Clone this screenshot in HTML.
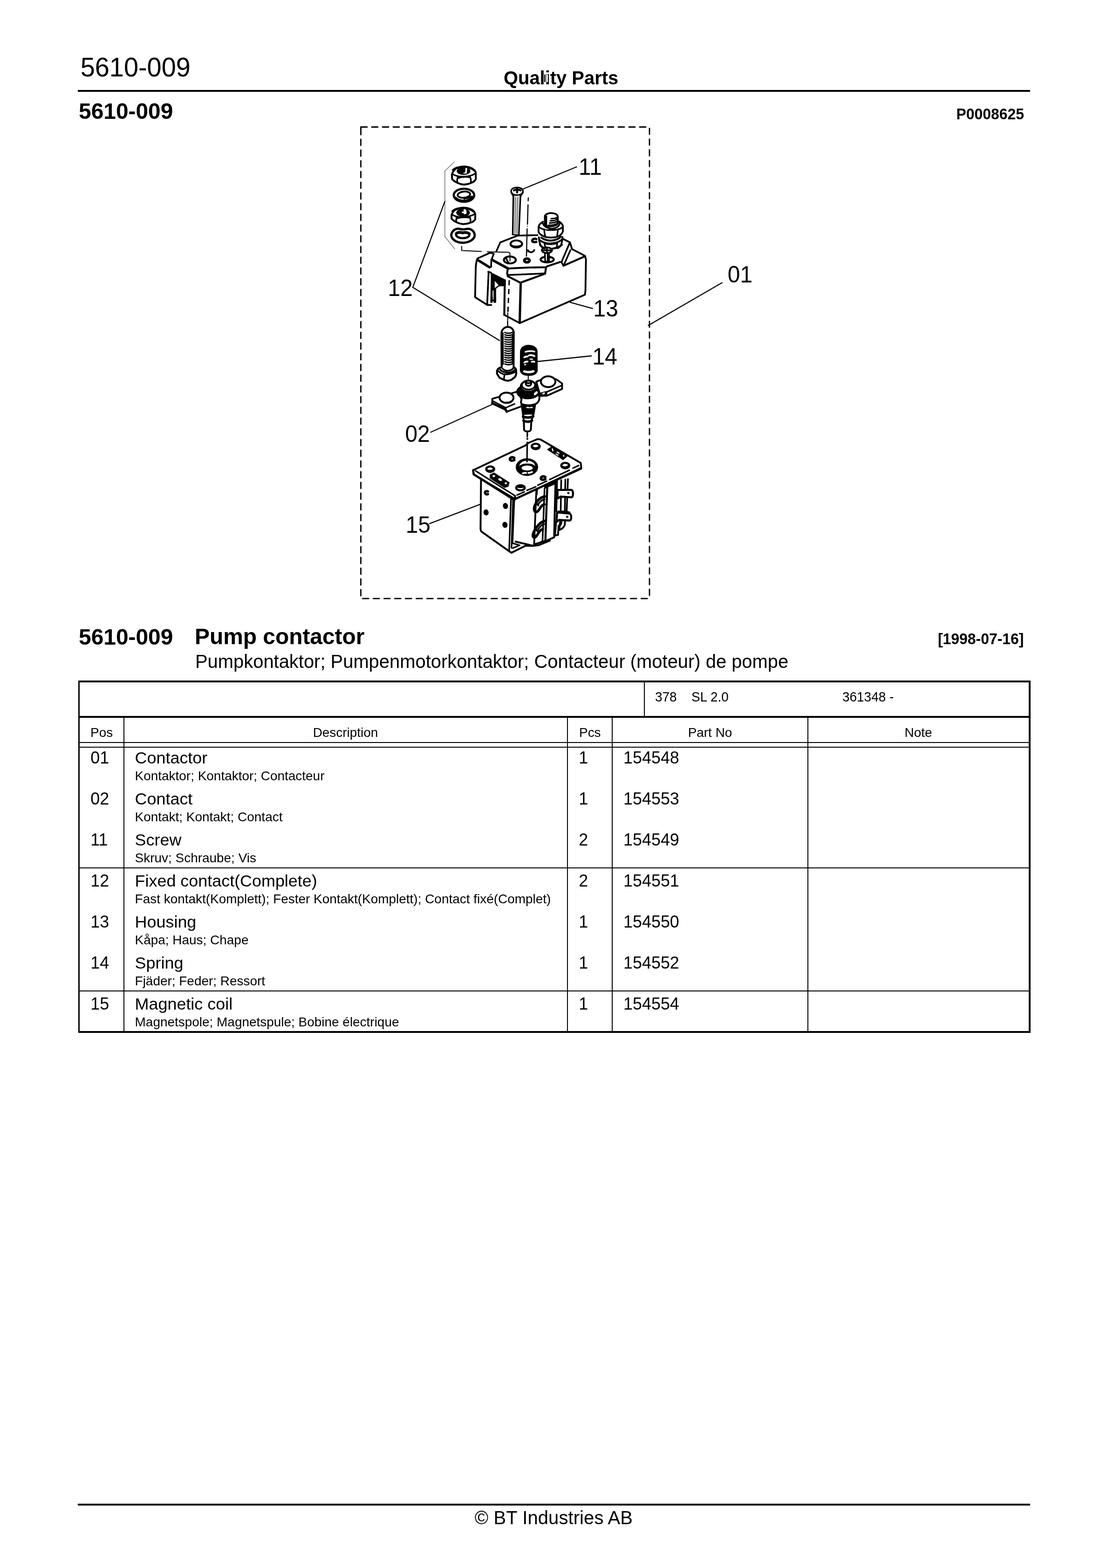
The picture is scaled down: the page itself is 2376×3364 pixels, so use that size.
<!DOCTYPE html>
<html lang="en">
<head>
<meta charset="utf-8">
<title>5610-009 Pump contactor</title>
<style>
html,body{margin:0;padding:0;background:#fff;}
body{width:2376px;height:3364px;position:relative;font-family:"Liberation Sans",sans-serif;color:#000;}
.t{position:absolute;line-height:1;white-space:nowrap;transform-origin:0 84.67%;}
#pg{position:absolute;left:0;top:0;width:2376px;height:3364px;overflow:hidden;will-change:transform;}
.r{position:absolute;background:#000;}
svg{position:absolute;left:0;top:0;}
</style>
</head>
<body>
<div id="pg">
<div class="t" style="top:117px;font-size:55.88px;left:172.70px;transform:scaleY(1.03);">5610-009</div>
<div class="t" style="top:148px;font-size:39.914px;left:1081.00px;font-weight:bold;">Quality Parts</div>
<div class="r" style="left:1168px;top:160px;width:9px;height:16px;background:linear-gradient(to right,#000 0,#000 2px,#999 2px,#a0a0a0 5.4px,#fff 5.6px,#fff 8px,#000 8px);"></div>
<div class="r" style="left:167.3px;top:192.5px;width:2044.2px;height:4.2px;"></div>
<div class="t" style="top:215px;font-size:47.897px;left:169.00px;font-weight:bold;transform:scaleY(1.015);">5610-009</div>
<div class="t" style="top:230px;font-size:31.931px;right:178.00px;font-weight:bold;transform:scaleY(1.02);">P0008625</div>
<svg width="2376" height="3364" viewBox="0 0 2376 3364" fill="none" stroke="#000" stroke-width="3" stroke-linecap="round" stroke-linejoin="round">
<path d="M775 272.5H1389" stroke-width="2.8" stroke-dasharray="13 10" stroke-linecap="round"/>
<path d="M1394 275.3V1280" stroke-width="2.8" stroke-dasharray="13 10" stroke-linecap="round"/>
<path d="M778.3 1284.2H1392.5" stroke-width="2.8" stroke-dasharray="13 10" stroke-linecap="round"/>
<path d="M774.5 276V1280" stroke-width="2.8" stroke-dasharray="13 10" stroke-linecap="round"/>
<path d="M774.5 272.5V278" stroke-width="2.8"/>
<path d="M1549.8 606.6L1391.6 698.1" stroke-width="2.3"/>
<path d="M1237.5 358L1121 406.2" stroke-width="2.3"/>
<path d="M974.4 347.8L954.8 367V507.4L975.9 534" stroke="#7a7a7a" stroke-width="1.6"/>
<path d="M954.8 432.2L886 616.4L1072 730.5" stroke-width="2.3"/>
<path d="M1223.9 648.6L1271.8 661.9" stroke-width="2.3"/>
<path d="M1154.3 775.5L1269.3 763.5" stroke-width="2.3"/>
<path d="M924.5 927.3L1056.1 867.7" stroke-width="2.3"/>
<path d="M922 1123.4L1031.6 1081.6" stroke-width="2.3"/>
<path d="M991 528.5V537.5L1033 539.5M1046 540.3L1092 541.2L1094.5 543.5V560" stroke-width="2.0"/>
<path d="M1133.9 424.5L1133.6 430.8M1133.3 439.5L1132.1 481M1131.4 491L1129.9 549.5" stroke-width="2.4"/>
<path d="M1132 485.5v0.1" stroke-width="2.0"/>
<path d="M1093 601L1090.1 671" stroke-dasharray="11 8" stroke-linecap="butt"/>
<path d="M1090 671L1089.5 700" stroke-width="2"/>
<g transform="translate(930 330) scale(0.073983)" stroke-width="50.0">
<path d="M540,610 C560,495 650,415 755,387 C830,370 900,367 955,372 C1035,382 1090,405 1125,425 C1185,460 1225,500 1232,552 L1234,732 C1210,788 1155,825 1090,845 C1015,880 945,893 880,893 C815,888 758,870 712,845 C635,815 578,778 546,732 Z" stroke-width="54.1"/>
<path d="M560,590 C640,640 760,665 880,662 C1010,657 1140,622 1215,572" stroke-width="46.0"/>
<path d="M575,470 C640,400 760,385 880,385 C1000,385 1120,410 1190,480" stroke-width="67.6"/>
<ellipse cx="878" cy="500" rx="185" ry="98" fill="#000" stroke-width="27.0"/>
<path d="M935,410 L985,410 L968,572 L872,576 L878,546 L925,540 Z" fill="#fff" stroke="none"/>
<path d="M715,660 C690,720 690,800 705,850" stroke-width="46.0"/>
<path d="M1062,660 C1090,720 1098,790 1090,845" stroke-width="46.0"/>
<path d="M700,655 L880,650 L1065,655 L1065,705 C1000,692 940,692 880,697 C820,697 760,712 712,738 Z" fill="#000" stroke="none"/>
</g>
<g transform="translate(930 400) scale(0.073983)" stroke-width="50.0">
<ellipse cx="890" cy="255" rx="298" ry="188" stroke-width="62.2"/>
<ellipse cx="888" cy="238" rx="182" ry="90" transform="rotate(-6 888 238)" stroke-width="51.4"/>
<path d="M640,330 C700,395 800,425 900,415" stroke-width="74.3"/>
<path d="M900,352 C980,347 1060,322 1120,288" stroke-width="48.7"/>
<path d="M905,415 C1000,400 1085,358 1140,302" stroke-width="43.3"/>
<path d="M528,850 C545,745 625,672 725,640 C795,617 880,612 948,620 C1035,632 1100,660 1145,695 C1192,732 1215,775 1218,822 L1216,952 C1185,1005 1128,1040 1062,1055 C995,1083 920,1093 852,1090 C785,1083 728,1065 680,1040 C615,1012 558,975 530,932 Z" stroke-width="54.1"/>
<path d="M545,815 C620,868 740,892 860,887 C990,882 1110,852 1198,805" stroke-width="46.0"/>
<path d="M560,720 C630,650 750,632 860,632 C980,632 1100,655 1170,725" stroke-width="67.6"/>
<ellipse cx="865" cy="762" rx="185" ry="98" fill="#000" stroke-width="27.0"/>
<path d="M880,662 L930,657 L960,702 L965,792 L900,812 L870,772 L820,767 L830,732 L880,727 Z" fill="#fff" stroke="none"/>
<path d="M685,882 C660,940 660,1005 675,1045" stroke-width="46.0"/>
<path d="M1058,882 C1082,940 1086,1000 1070,1050" stroke-width="46.0"/>
<path d="M680,880 L860,875 L1060,880 L1060,928 C1000,917 940,917 870,920 C810,922 740,932 690,952 Z" fill="#000" stroke="none"/>
</g>
<g transform="translate(930 480) scale(0.073983)" stroke-width="50.0">
<path d="M520,335 C525,245 595,160 700,145 C760,140 800,165 860,165 C920,165 960,143 1025,148 C1130,160 1205,250 1200,340 C1190,455 1050,548 860,553 C670,551 530,455 520,335 Z" stroke-width="64.9"/>
<path d="M660,318 C668,268 728,248 790,248 C830,250 850,262 880,262 C910,262 930,248 968,250 C1020,256 1052,290 1048,326 C1040,380 962,420 850,420 C748,418 665,378 660,318 Z" stroke-width="62.2"/>
<path d="M668,285 C715,245 785,245 850,265 C918,245 1005,252 1042,290" stroke-width="81.1"/>
</g>
<g transform="translate(1050 330) scale(0.147965)" stroke-width="25.0">
<path d="M348,608 L338,1172 L432,1176 L456,608 Z" fill="#d4d4d4" stroke="none" stroke-width="0.7"/>
<path d="M350,608 L340,1172" stroke-width="21.6"/>
<path d="M454,608 L430,1176" stroke-width="21.6"/>
<path d="M338,1172 L432,1176" stroke-width="16.9"/>
<path d="M318,545 C318,505 360,488 405,488 C455,488 492,510 490,548 C488,580 450,598 405,598 C355,598 320,580 318,545 Z" fill="#fff" stroke-width="21.6"/>
<path d="M322,560 L350,612 M488,560 L456,612"/>
<path d="M360,530 C380,515 430,515 455,530 M405,505 L405,560" stroke-width="30.4"/>
<path d="M380,640 L372,1150 M412,640 L402,1150" stroke="#777" stroke-width="14.9" stroke-dasharray="12 12"/>
</g>
<g transform="translate(1120 440) scale(0.073983)" stroke-width="50.0">
<path d="M668,480 L668,315 C695,255 785,230 860,232 C950,237 1025,268 1043,322 L1047,520 C1025,580 945,615 860,617 C775,617 700,598 662,555 Z" fill="#fff" stroke-width="51.4"/>
<path d="M655,332 L735,302 L735,600 L655,560 Z" fill="#000" stroke="none"/>
<path d="M850,392 C925,392 995,380 1040,355 M825,455 C905,457 995,440 1042,417 M805,518 C895,523 985,503 1042,480 M790,578 C875,588 975,565 1035,538" stroke-width="43.3"/>
<path d="M978,402 L1045,377 L1047,535 L982,575 Z" fill="#000" stroke="none"/>
<path d="M985,458 L1005,451 M980,522 L1000,514" stroke="#fff" stroke-width="18.9"/>
<path d="M612,482 C535,530 490,577 486,630 L486,782 C515,848 590,895 695,928 C800,947 900,947 995,928 C1090,900 1165,840 1192,765 L1192,607 C1175,550 1140,512 1082,480" stroke-width="51.4"/>
<path d="M600,512 C630,602 725,667 860,687 C995,678 1080,620 1100,527" stroke-width="48.7"/>
<path d="M510,645 C565,690 605,700 652,705 M1170,645 C1125,690 1088,700 1048,705" stroke-width="46.0"/>
<path d="M648,702 C652,780 662,850 684,915 M1048,702 C1040,780 1032,850 1020,918" stroke-width="46.0"/>
<path d="M632,690 C720,705 800,705 870,700 L1058,690 L1048,722 C990,742 920,750 860,748 C780,752 700,744 648,718 Z" fill="#000" stroke="none"/>
<path d="M495,935 C498,1000 505,1060 528,1135 C548,1185 585,1220 640,1245 C700,1262 760,1270 830,1265" stroke-width="51.4"/>
<path d="M1180,925 C1178,990 1168,1055 1148,1130 C1130,1180 1095,1220 1045,1250" stroke-width="51.4"/>
<path d="M565,945 C650,1010 780,1038 860,1028 C980,1018 1085,970 1128,915" stroke-width="56.8"/>
<path d="M512,1010 C605,1090 760,1122 860,1110 C1000,1098 1115,1050 1172,990" stroke-width="51.4"/>
<path d="M652,1090 C658,1140 670,1185 688,1228 M1030,1090 C1028,1140 1020,1185 1006,1232" stroke-width="46.0"/>
<path d="M650,1098 C720,1126 800,1132 860,1122 L1036,1092 L1032,1126 C980,1148 900,1158 840,1158 C770,1158 700,1148 655,1132 Z" fill="#000" stroke="none"/>
<path d="M420,985 C370,960 310,985 300,1030 C300,1070 350,1085 420,1070" stroke-width="67.6"/>
</g>
<g transform="translate(1000 490) scale(0.110974)" stroke-width="33.3">
<path d="M590,440 L665,270 L1000,140 L1385,130" stroke-width="32.4"/>
<path d="M470,470 L225,580 C205,620 195,680 190,760 L178,1330 L415,1481 L490,1481" stroke-width="34.2"/>
<path d="M235,615 L455,750" stroke-width="49.6"/>
<path d="M455,750 L487,745 L492,610 L540,490 L470,470" stroke-width="32.4"/>
<path d="M500,605 L815,775" stroke-width="49.6"/>
<path d="M815,775 L1200,757 L1545,750 L1582,730 L1822,650" stroke-width="37.8"/>
<path d="M815,775 C795,830 795,880 810,925 L1055,1050 L1532,875 L1548,760" stroke-width="37.8"/>
<path d="M835,900 L1200,885 L1525,870" stroke-width="32.4"/>
<path d="M1060,1050 L1040,1825" stroke-width="45.1"/>
<path d="M740,1671 L1040,1831 L2302,1281 L2312,1200 L2322,600 L2302,530 L2052,400 L2012,270 L1872,200" stroke-width="34.2"/>
<path d="M2302,540 L1892,720" stroke-width="37.8"/>
<path d="M2002,290 L1862,620 L1852,660 L1887,725 L2022,420" stroke-width="32.4"/>
<path d="M440,840 L410,1481" stroke-width="34.2"/>
<path d="M505,1330 L505,1390 L570,1400 L570,1330" stroke-width="30.6"/>
<path d="M752,1000 L742,1671" stroke-width="37.8"/>
<ellipse cx="975" cy="300" rx="112" ry="68" stroke-width="37.8"/>
<path d="M890,335 C930,355 1020,355 1065,330" stroke-width="31.5"/>
<ellipse cx="850" cy="610" rx="115" ry="68" stroke-width="37.8"/>
<path d="M775,560 C790,620 800,640 830,665"/>
<ellipse cx="1180" cy="620" rx="52" ry="36" stroke-width="49.6"/>
<path d="M1195,420 L1215,440 C1240,472 1300,470 1322,418" stroke-width="32.4"/>
<path d="M1195,405 L1225,445 L1190,470 Z" fill="#000" stroke="none"/>
<ellipse cx="1572" cy="602" rx="128" ry="55" stroke-width="37.8"/>
<path d="M1528,470 L1533,640 L1608,640 L1606,470 Z" fill="#fff" stroke-width="30.6"/>
<path d="M1585,500 L1585,630" stroke-width="36.0"/>
<ellipse cx="1567" cy="422" rx="98" ry="54" fill="#fff" stroke-width="34.2"/>
<path d="M1500,424 L1635,424 M1567,385 L1567,460" stroke-width="30.6"/>
</g>
<g transform="translate(1030 570) scale(0.049322)" stroke-width="75.0">
<path d="M480,300 L1110,620 L1110,870 L860,880 C800,900 740,950 690,1000 L690,1600 L610,1600 L610,1050 L540,1080 L540,1600 L470,1600 L480,1050 L490,500 Z" fill="#000" stroke-width="30.4"/>
<path d="M645,665 L815,845 L645,975 Z" fill="#fff" stroke="none"/>
<path d="M360,270 L480,300"/>
</g>
<g transform="translate(1040 690) scale(0.110974)" stroke-width="33.3">
<path d="M332,880 L328,215 C340,140 395,103 450,101 C505,103 555,140 565,205 L562,880" fill="#fff" stroke-width="36.0"/>
<path d="M312,235 L368,200 L372,830 L312,860 Z" fill="#000" stroke="none"/>
<path d="M530,235 L568,215 L565,840 L526,822 Z" fill="#000" stroke="none"/>
<path d="M392,210 C450,232 505,228 552,202" stroke-width="26.1"/>
<path d="M392,254 C450,276 505,272 552,246" stroke-width="26.1"/>
<path d="M392,297 C450,319 505,315 552,289" stroke-width="26.1"/>
<path d="M392,340 C450,362 505,358 552,332" stroke-width="26.1"/>
<path d="M392,384 C450,406 505,402 552,376" stroke-width="26.1"/>
<path d="M392,428 C450,450 505,446 552,420" stroke-width="26.1"/>
<path d="M392,471 C450,493 505,489 552,463" stroke-width="26.1"/>
<path d="M392,514 C450,536 505,532 552,506" stroke-width="26.1"/>
<path d="M392,558 C450,580 505,576 552,550" stroke-width="26.1"/>
<path d="M392,602 C450,624 505,620 552,594" stroke-width="26.1"/>
<path d="M392,645 C450,667 505,663 552,637" stroke-width="26.1"/>
<path d="M392,688 C450,710 505,706 552,680" stroke-width="26.1"/>
<path d="M392,732 C450,754 505,750 552,724" stroke-width="26.1"/>
<path d="M392,776 C450,798 505,794 552,768" stroke-width="26.1"/>
<path d="M392,819 C450,841 505,837 552,811" stroke-width="26.1"/>
<path d="M445,0 L447,100" stroke-width="18.0"/>
<path d="M300,890 C265,905 243,935 240,965 L243,1010 L290,1085 L380,1128 C420,1145 470,1148 515,1128 L585,1075 C605,1050 612,1020 613,995 L610,930 C600,905 590,893 572,888" fill="#fff" stroke-width="37.8"/>
<path d="M332,890 C355,930 410,952 450,950 C495,948 540,925 562,890" stroke-width="30.6"/>
<path d="M268,955 C295,990 335,1008 385,1020 C460,1023 535,1003 590,975" stroke-width="32.4"/>
<path d="M385,1020 L374,1122" stroke-width="30.6"/>
<path d="M295,912 C308,948 355,982 450,986 C525,982 580,950 596,915"/>
<path d="M705,570 C715,505 780,467 852,467 C930,467 1000,505 1006,570 L1010,950 C995,1005 932,1030 856,1030 C780,1030 718,1005 702,950 Z" fill="#000" stroke-width="37.8"/>
<path d="M790,585 C840,565 920,565 965,580" stroke="#fff" stroke-width="30.6"/>
<path d="M770,690 C790,675 815,672 835,672 M862,652 C900,642 940,652 965,667" stroke="#fff" stroke-width="34.2"/>
<path d="M772,790 C790,775 815,772 832,772 M915,775 C935,768 950,770 962,778" stroke="#fff" stroke-width="34.2"/>
<path d="M775,835 L795,828 M880,725 L930,727" stroke="#fff" stroke-width="21.6"/>
<path d="M768,962 C810,980 900,980 945,960" stroke="#fff" stroke-width="43.3"/>
<path d="M845,1040 L845,1135" stroke-width="18.0"/>
</g>
<g transform="translate(1040 800) scale(0.110974)" stroke-width="33.3">
<path d="M640,360 L150,500 L148,585 L400,705 L430,750 L720,645 L720,520 Z" fill="#fff" stroke-width="34.2"/>
<path d="M148,585 L400,705 L430,750" stroke-width="45.1"/>
<path d="M170,548 L410,675 L580,600" stroke-width="28.8"/>
<path d="M410,675 L422,748" stroke-width="28.8"/>
<ellipse cx="425" cy="480" rx="135" ry="100" fill="#fff" stroke-width="36.0"/>
<path d="M440,570 C470,582 500,572 522,552" stroke-width="36.0"/>
<path d="M1000,170 L1100,130 L1380,120 L1500,205 L1500,310 L1210,440 L1090,445 L1060,380 Z" fill="#fff" stroke-width="34.2"/>
<path d="M1480,248 L1200,370 L1196,436 M1092,392 L1196,366" stroke-width="28.8"/>
<path d="M1095,395 L1190,368 L1190,435 L1100,440 Z" fill="#000" stroke="none"/>
<path d="M1120,385 L1165,375 L1165,410 L1120,420 Z" fill="#fff" stroke="none"/>
<ellipse cx="1230" cy="170" rx="140" ry="105" fill="#fff" stroke-width="36.0"/>
<path d="M712,595 L985,588 L950,785 L742,790 Z" fill="#000"/>
<path d="M820,668 L860,672 M885,672 L920,668" stroke="#fff" stroke-width="23.4"/>
<path d="M742,790 L760,940 L765,1100 C780,1142 880,1142 895,1100 L905,940 L950,785 Z" fill="#fff" stroke-width="36.0"/>
<path d="M745,845 C800,870 880,870 940,840" stroke-width="49.6"/>
<path d="M755,925 C800,950 870,950 915,922" stroke-width="49.6"/>
<path d="M750,800 C800,780 890,780 945,795"/>
<path d="M715,520 C700,560 705,590 720,600 C800,640 920,630 1000,595 C1040,570 1062,530 1062,470 L1040,380 L700,400 Z" fill="#fff" stroke-width="36.0"/>
<ellipse cx="842" cy="365" rx="212" ry="128" fill="#000"/>
<path d="M975,408 L1008,378" stroke="#fff" stroke-width="45.1"/>
<ellipse cx="850" cy="262" rx="150" ry="105" fill="#fff" stroke-width="36.0"/>
<path d="M700,290 C740,350 800,365 860,362 C920,360 980,330 1000,280" stroke-width="30.6"/>
<ellipse cx="850" cy="235" rx="128" ry="88" stroke-width="32.4"/>
<path d="M798,215 L798,172 C810,142 890,142 902,172 L902,215 C890,262 810,262 798,215 Z" fill="#fff" stroke-width="34.2"/>
<path d="M800,180 C820,205 880,205 900,180"/>
<path d="M826,1150 L826,1238" stroke-width="25.2"/>
<path d="M826,1272 L826,1280" stroke-width="30.6"/>
</g>
<g transform="translate(1000 930) scale(0.110974)" stroke-width="33.3">
<path d="M292,905 L283,1841 C285,1880 295,1895 312,1905 L830,2271 L880,2306 L1150,2171 L1300,2171 L1400,2161 L1330,1200 L950,1268 Z" fill="#fff" stroke="none" stroke-width="0.9"/>
<path d="M292,900 L283,1841 C285,1880 295,1895 312,1905 L830,2271 L880,2306 L1150,2171" stroke-width="36.0"/>
<path d="M872,1270 L836,2271 M912,1281 L882,2211 M936,1262 L902,2101" stroke-width="30.6"/>
<path d="M902,2121 L1040,2161 L906,2216" stroke-width="28.8"/>
<path d="M960,2090 L1300,2171 L1400,2161 L1622,2071" stroke-width="36.0"/>
<path d="M1150,2171 L1300,2171" stroke-width="36.0"/>
<path d="M425,1122 C400,1108 372,1116 368,1142 C372,1172 400,1188 425,1172" stroke-width="45.1"/>
<ellipse cx="390" cy="1526" rx="40" ry="50" transform="rotate(-10 390 1526)" fill="#000" stroke-width="18.0"/>
<ellipse cx="765" cy="1401" rx="40" ry="50" transform="rotate(-15 765 1401)" fill="#000" stroke-width="18.0"/>
<ellipse cx="755" cy="1766" rx="40" ry="50" transform="rotate(-15 755 1766)" fill="#000" stroke-width="18.0"/>
</g>
<g transform="translate(1120 1050) scale(0.110974)" stroke-width="33.3">
<path d="M282,-10 L238,1062 L330,1035 L395,1010 L460,1000 L625,925 L652,-150 L282,-40 Z" fill="#fff" stroke="none"/>
<path d="M282,-10 L262,480 L238,1062" stroke-width="34.2"/>
<path d="M238,1062 L330,1035 L395,1010 L460,1000 L625,925" stroke-width="36.0"/>
<path d="M652,-160 L640,300 L625,925" stroke-width="36.0"/>
<path d="M440,-20 L418,560 L400,1005" stroke-width="30.6"/>
<path d="M492,-30 L470,560 L456,1000" stroke-width="39.6"/>
<path d="M300,-20 L290,100" stroke-width="28.8"/>
<path d="M445,135 C370,150 300,210 260,290 C225,360 235,420 265,440 C300,445 330,400 360,350 C385,310 410,295 435,290" stroke-width="49.6"/>
<path d="M440,190 C390,200 340,250 310,300"/>
<path d="M300,290 L320,310" stroke-width="36.0"/>
<path d="M440,610 C370,630 300,700 255,780 C205,860 205,910 235,935 C270,930 300,880 330,830 C355,790 380,775 405,770" stroke-width="49.6"/>
<path d="M435,670 C390,680 340,730 305,790"/>
<path d="M285,790 L300,805" stroke-width="36.0"/>
<path d="M440,-60 L650,-150 L650,-110 L445,-25 Z" fill="#000" stroke-width="18.0"/>
<path d="M682,-180 L668,420 M762,-180 L752,420 M842,-190 L832,430 M892,-200 L868,420" stroke-width="32.4"/>
<path d="M690,10 L955,8 C985,20 992,50 990,80 C990,120 980,150 960,152 L745,140 L705,172 L690,172 Z" fill="#fff" stroke-width="39.6"/>
<ellipse cx="900" cy="70" rx="14" ry="12" fill="#000" stroke-width="18.0"/>
<path d="M682,445 L925,468 C950,480 958,520 955,550 C950,590 940,602 925,602 L720,590 L682,622 L670,622 Z" fill="#fff" stroke-width="39.6"/>
<ellipse cx="878" cy="530" rx="14" ry="12" fill="#000" stroke-width="18.0"/>
<path d="M690,440 L930,470 L930,440 L860,420 L700,420 Z" fill="#000" stroke-width="18.0"/>
<path d="M742,622 C735,700 725,760 722,785 C770,770 815,730 830,690 L835,620" stroke-width="36.0"/>
<path d="M770,625 C765,660 750,690 735,700"/>
<path d="M662,640 L640,892 L700,880 L712,700" stroke-width="36.0"/>
</g>
<g transform="translate(1000 930) scale(0.110974)" stroke-width="33.3">
<path d="M140,710 L1150,232 L1205,185 L1381,110 L1441,115 L2221,570 L2231,665 L950,1268 L150,790 Z" fill="#fff" stroke-width="34.2"/>
<path d="M140,710 L150,790 L935,1285" stroke-width="41.5"/>
<path d="M190,725 L950,1205" stroke-width="28.8"/>
<path d="M2225,680 L950,1268" stroke-width="39.6"/>
<path d="M2181,620 L2071,670 M2001,710 L1621,890 M1561,920 L1391,1000 M1351,1030 L1181,1100 M1130,1130 L990,1190" stroke-width="28.8"/>
<path d="M950,1205 L950,1268" stroke-width="36.0"/>
<ellipse cx="470" cy="690" rx="76" ry="52" stroke-width="41.5"/>
<path d="M422,708 C450,726 498,724 525,698" stroke-width="28.8"/>
<ellipse cx="1350" cy="250" rx="76" ry="52" stroke-width="41.5"/>
<path d="M1302,268 C1330,286 1378,284 1405,258" stroke-width="28.8"/>
<ellipse cx="1921" cy="620" rx="76" ry="52" stroke-width="41.5"/>
<path d="M1873,638 C1901,656 1949,654 1976,628" stroke-width="28.8"/>
<ellipse cx="1055" cy="1050" rx="82" ry="50" stroke-width="41.5"/>
<path d="M985,1040 C1010,1005 1100,1005 1125,1040 C1100,1060 1010,1060 985,1040 Z" fill="#000" stroke="none"/>
<path d="M935,472 C900,450 858,460 850,492 C850,525 892,535 935,512" stroke-width="49.6"/>
<path d="M1535,842 C1500,820 1458,830 1450,862 C1450,895 1492,905 1535,882" stroke-width="49.6"/>
<ellipse cx="1180" cy="650" rx="198" ry="152" fill="#000" stroke-width="36.0"/>
<path d="M1030,640 C1040,560 1110,525 1185,525 C1260,525 1335,560 1340,640 C1330,600 1260,580 1185,582 C1110,582 1040,605 1030,640 Z" fill="#fff" stroke="none"/>
<ellipse cx="1185" cy="668" rx="118" ry="58" fill="#fff" stroke-width="18.0"/>
<path d="M1100,770 C1130,760 1150,760 1165,762 M1210,762 C1240,758 1260,755 1280,745" stroke="#fff"/>
<path d="M1190,0 L1190,42" stroke-width="25.2"/>
<path d="M1190,98 L1190,106" stroke-width="30.6"/>
<path d="M1186,170 L1181,545" stroke-width="28.8"/>
<path d="M470,800 L545,765 L835,950 L815,1020 L750,1042 L470,862 Z" fill="#000" stroke-width="18.0"/>
<ellipse cx="540" cy="822" rx="24" ry="20" fill="#fff" stroke="none"/>
<ellipse cx="662" cy="892" rx="38" ry="22" transform="rotate(30 662 892)" fill="#fff" stroke="none"/>
<ellipse cx="772" cy="962" rx="24" ry="18" fill="#fff" stroke="none"/>
<path d="M1581,310 L1651,265 L1951,440 L1881,505 Z" fill="#000" stroke-width="18.0"/>
<path d="M1672,298 L1682,335 M1765,362 L1800,380 M1745,400 L1780,418 M1890,425 L1893,440" stroke="#fff" stroke-width="23.4"/>
</g>
<g transform="translate(1120 440) scale(0.073983)" stroke-width="50.0">
<path d="M530,1150 C560,1200 610,1235 668,1252" stroke-width="59.5"/>
<path d="M905,1258 C990,1250 1085,1222 1160,1150" stroke-width="59.5"/>
</g>
</svg>
<div class="t" style="top:335px;font-size:47.897px;left:1242.00px;transform:scaleY(1.03);">11</div>
<div class="t" style="top:595px;font-size:47.897px;left:832.50px;transform:scaleY(1.03);">12</div>
<div class="t" style="top:639px;font-size:47.897px;left:1273.50px;transform:scaleY(1.03);">13</div>
<div class="t" style="top:742px;font-size:47.897px;left:1271.60px;transform:scaleY(1.03);">14</div>
<div class="t" style="top:908px;font-size:47.897px;left:869.40px;transform:scaleY(1.03);">02</div>
<div class="t" style="top:1103px;font-size:47.897px;left:870.70px;transform:scaleY(1.03);">15</div>
<div class="t" style="top:566px;font-size:47.897px;left:1561.80px;transform:scaleY(1.03);">01</div>
<div class="t" style="top:1343px;font-size:47.897px;left:169.00px;font-weight:bold;transform:scaleY(1.015);">5610-009</div>
<div class="t" style="top:1342px;font-size:47.897px;left:418.00px;font-weight:bold;">Pump contactor</div>
<div class="t" style="top:1356px;font-size:31.931px;right:178.50px;font-weight:bold;transform:scaleY(1.02);">[1998-07-16]</div>
<div class="t" style="top:1400px;font-size:39.914px;left:419.00px;">Pumpkontaktor; Pumpenmotorkontaktor; Contacteur (moteur) de pompe</div>
<div class="r" style="left:167.6px;top:1459.7px;width:2044.6px;height:4px;"></div>
<div class="r" style="left:167.6px;top:2211.7px;width:2044.6px;height:4px;"></div>
<div class="r" style="left:167.7px;top:1459.7px;width:3.7px;height:755.3px;"></div>
<div class="r" style="left:2208.2px;top:1459.7px;width:4px;height:755.3px;"></div>
<div class="r" style="left:167.6px;top:1535.6px;width:2044.6px;height:4px;"></div>
<div class="r" style="left:170px;top:1592px;width:2040px;height:2px;"></div>
<div class="r" style="left:170px;top:1601.5px;width:2040px;height:2px;"></div>
<div class="r" style="left:1381.5px;top:1462px;width:2px;height:76px;"></div>
<div class="r" style="left:264.7px;top:1538px;width:2px;height:675px;"></div>
<div class="r" style="left:1217px;top:1538px;width:2px;height:675px;"></div>
<div class="r" style="left:1313.2px;top:1538px;width:2px;height:675px;"></div>
<div class="r" style="left:1733.3px;top:1538px;width:2px;height:675px;"></div>
<div class="r" style="left:170px;top:1860.5px;width:2040px;height:2px;"></div>
<div class="r" style="left:170px;top:2124.5px;width:2040px;height:2px;"></div>
<div class="t" style="top:1482px;font-size:27.94px;left:1406.00px;transform:scaleY(1.03);">378</div>
<div class="t" style="top:1482px;font-size:27.94px;left:1484.00px;transform:scaleY(1.03);">SL 2.0</div>
<div class="t" style="top:1482px;font-size:27.94px;left:1808.00px;transform:scaleY(1.03);">361348 -</div>
<div class="t" style="top:1558px;font-size:27.94px;left:194.00px;">Pos</div>
<div class="t" style="top:1558px;font-size:27.94px;left:441.50px;width:600px;text-align:center;">Description</div>
<div class="t" style="top:1558px;font-size:27.94px;left:1243.00px;">Pcs</div>
<div class="t" style="top:1558px;font-size:27.94px;left:1224.00px;width:600px;text-align:center;">Part No</div>
<div class="t" style="top:1558px;font-size:27.94px;left:1671.00px;width:600px;text-align:center;">Note</div>
<div class="t" style="top:1608px;font-size:35.923px;left:194.20px;transform:scaleY(1.03);">01</div>
<div class="t" style="top:1608px;font-size:35.923px;left:289.60px;">Contactor</div>
<div class="t" style="top:1651px;font-size:27.94px;left:289.60px;">Kontaktor; Kontaktor; Contacteur</div>
<div class="t" style="top:1608px;font-size:35.923px;left:1242.30px;transform:scaleY(1.03);">1</div>
<div class="t" style="top:1608px;font-size:35.923px;left:1338.00px;transform:scaleY(1.03);">154548</div>
<div class="t" style="top:1696px;font-size:35.923px;left:194.20px;transform:scaleY(1.03);">02</div>
<div class="t" style="top:1696px;font-size:35.923px;left:289.60px;">Contact</div>
<div class="t" style="top:1739px;font-size:27.94px;left:289.60px;">Kontakt; Kontakt; Contact</div>
<div class="t" style="top:1696px;font-size:35.923px;left:1242.30px;transform:scaleY(1.03);">1</div>
<div class="t" style="top:1696px;font-size:35.923px;left:1338.00px;transform:scaleY(1.03);">154553</div>
<div class="t" style="top:1784px;font-size:35.923px;left:194.20px;transform:scaleY(1.03);">11</div>
<div class="t" style="top:1784px;font-size:35.923px;left:289.60px;">Screw</div>
<div class="t" style="top:1827px;font-size:27.94px;left:289.60px;">Skruv; Schraube; Vis</div>
<div class="t" style="top:1784px;font-size:35.923px;left:1242.30px;transform:scaleY(1.03);">2</div>
<div class="t" style="top:1784px;font-size:35.923px;left:1338.00px;transform:scaleY(1.03);">154549</div>
<div class="t" style="top:1872px;font-size:35.923px;left:194.20px;transform:scaleY(1.03);">12</div>
<div class="t" style="top:1872px;font-size:35.923px;left:289.60px;">Fixed contact(Complete)</div>
<div class="t" style="top:1915px;font-size:27.94px;left:289.60px;">Fast kontakt(Komplett); Fester Kontakt(Komplett); Contact fixé(Complet)</div>
<div class="t" style="top:1872px;font-size:35.923px;left:1242.30px;transform:scaleY(1.03);">2</div>
<div class="t" style="top:1872px;font-size:35.923px;left:1338.00px;transform:scaleY(1.03);">154551</div>
<div class="t" style="top:1960px;font-size:35.923px;left:194.20px;transform:scaleY(1.03);">13</div>
<div class="t" style="top:1960px;font-size:35.923px;left:289.60px;">Housing</div>
<div class="t" style="top:2003px;font-size:27.94px;left:289.60px;">Kåpa; Haus; Chape</div>
<div class="t" style="top:1960px;font-size:35.923px;left:1242.30px;transform:scaleY(1.03);">1</div>
<div class="t" style="top:1960px;font-size:35.923px;left:1338.00px;transform:scaleY(1.03);">154550</div>
<div class="t" style="top:2048px;font-size:35.923px;left:194.20px;transform:scaleY(1.03);">14</div>
<div class="t" style="top:2048px;font-size:35.923px;left:289.60px;">Spring</div>
<div class="t" style="top:2091px;font-size:27.94px;left:289.60px;">Fjäder; Feder; Ressort</div>
<div class="t" style="top:2048px;font-size:35.923px;left:1242.30px;transform:scaleY(1.03);">1</div>
<div class="t" style="top:2048px;font-size:35.923px;left:1338.00px;transform:scaleY(1.03);">154552</div>
<div class="t" style="top:2136px;font-size:35.923px;left:194.20px;transform:scaleY(1.03);">15</div>
<div class="t" style="top:2136px;font-size:35.923px;left:289.60px;">Magnetic coil</div>
<div class="t" style="top:2179px;font-size:27.94px;left:289.60px;">Magnetspole; Magnetspule; Bobine électrique</div>
<div class="t" style="top:2136px;font-size:35.923px;left:1242.30px;transform:scaleY(1.03);">1</div>
<div class="t" style="top:2136px;font-size:35.923px;left:1338.00px;transform:scaleY(1.03);">154554</div>
<div class="r" style="left:167.3px;top:3226px;width:2044.2px;height:3.6px;"></div>
<div class="t" style="top:3237px;font-size:39.914px;left:888.40px;width:600px;text-align:center;letter-spacing:0.12px;">© BT Industries AB</div>
</div>
</body>
</html>
